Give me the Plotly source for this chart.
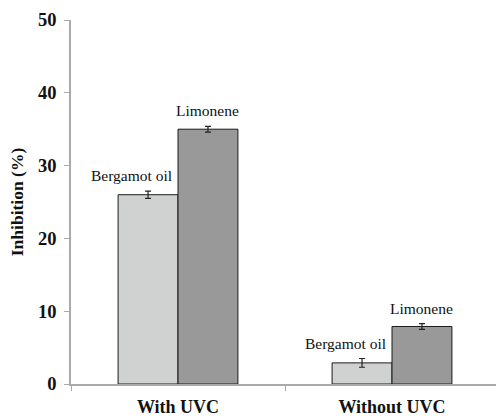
import plotly.graph_objects as go

categories = ["With UVC", "Without UVC"]
bergamot = [26.0, 2.9]
bergamot_err = [0.5, 0.6]
limonene = [35.0, 7.9]
limonene_err = [0.4, 0.4]
series_names = ["Bergamot oil", "Limonene"]
y_ticks = [0, 10, 20, 30, 40, 50]

font_family = "Liberation Serif"

fig = go.Figure()
fig.add_trace(go.Bar(
    x=categories, y=bergamot, name=series_names[0],
    marker=dict(color="#d0d2d1", line=dict(color="#1a1a1a", width=1)),
    error_y=dict(type="data", array=bergamot_err, color="#222", thickness=1.2, width=3),
))
fig.add_trace(go.Bar(
    x=categories, y=limonene, name=series_names[1],
    marker=dict(color="#999999", line=dict(color="#1a1a1a", width=1)),
    error_y=dict(type="data", array=limonene_err, color="#222", thickness=1.2, width=3),
))

annotations = []
for i, cat in enumerate(categories):
    annotations.append(dict(x=i - 0.14, y=bergamot[i] + bergamot_err[i], xref="x", yref="y",
                            text=series_names[0], showarrow=False, yanchor="bottom",
                            xshift=-17, yshift=5,
                            font=dict(family=font_family, size=15.5, color="#111")))
    annotations.append(dict(x=i + 0.14, y=limonene[i] + limonene_err[i], xref="x", yref="y",
                            text=series_names[1], showarrow=False, yanchor="bottom",
                            yshift=5,
                            font=dict(family=font_family, size=15.5, color="#111")))

fig.update_layout(
    width=496, height=420,
    margin=dict(l=71, r=0, t=20, b=36),
    paper_bgcolor="white", plot_bgcolor="white",
    barmode="group", bargap=0.44, bargroupgap=0,
    showlegend=False,
    annotations=annotations,
    font=dict(family=font_family, color="#111"),
)
fig.update_xaxes(
    range=[-0.5, 1.486], showline=True, linecolor="#aaaaaa", linewidth=1.5,
    ticks="outside", tickson="boundaries", ticklen=5, tickcolor="#aaaaaa",
    tickfont=dict(family=font_family, size=18, color="#111", weight="bold"),
    ticklabelstandoff=6, showgrid=False, zeroline=False,
)
fig.update_yaxes(
    range=[0, 50], tickvals=y_ticks, showline=True, linecolor="#aaaaaa", linewidth=1.5,
    ticks="outside", ticklen=5, tickcolor="#aaaaaa",
    tickfont=dict(family=font_family, size=18.5, color="#111", weight="bold"),
    ticklabelstandoff=4, showgrid=False, zeroline=False,
    title=dict(text="Inhibition (%)", standoff=10,
               font=dict(family=font_family, size=17.5, color="#111", weight="bold")),
)

fig.write_html("out.html", config={"displayModeBar": False},
               post_script="document.body.style.margin='0';document.body.style.overflow='hidden';")
